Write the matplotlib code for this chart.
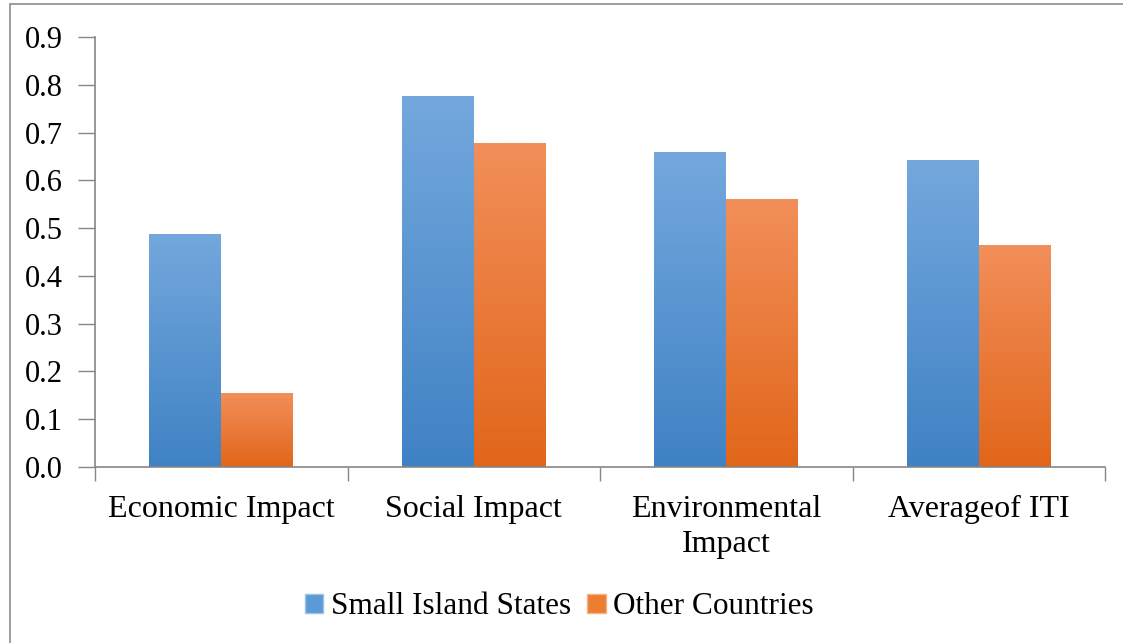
import numpy as np
import matplotlib
matplotlib.use('Agg')
import matplotlib.pyplot as plt
from matplotlib.colors import LinearSegmentedColormap
from matplotlib.patches import Patch, Rectangle

# data
categories = ['Economic Impact', 'Social Impact', 'Environmental\nImpact', 'Averageof ITI']
small_island = [0.488, 0.776, 0.659, 0.643]
other_countries = [0.155, 0.678, 0.561, 0.465]
series_names = ['Small Island States', 'Other Countries']

blue_grad = LinearSegmentedColormap.from_list('b', ['#3f82c4', '#74a8dd'])
orange_grad = LinearSegmentedColormap.from_list('o', ['#e1661a', '#f28f5a'])

plt.rcParams['font.family'] = ['Liberation Serif', 'DejaVu Serif']

fig = plt.figure(figsize=(11.23, 6.43), dpi=100)
# outer frame
fig.patches.append(Rectangle((10 / 1123, -0.1), 1.2, 1 - 4 / 643 + 0.1,
                             transform=fig.transFigure, fill=False,
                             edgecolor='#8c8c8c', linewidth=1.2))

ax = fig.add_axes([0.0846, 0.2737, 0.8994, 0.6688])
x = np.arange(len(categories))
w = 0.285

b1 = ax.bar(x - w / 2, small_island, w, color='none', edgecolor='none')
b2 = ax.bar(x + w / 2, other_countries, w, color='none', edgecolor='none')

grad = np.linspace(0, 1, 256).reshape(-1, 1)
for bars, cmap in [(b1, blue_grad), (b2, orange_grad)]:
    for r in bars:
        x0, y0 = r.get_x(), r.get_y()
        x1, y1 = x0 + r.get_width(), y0 + r.get_height()
        im = ax.imshow(grad, cmap=cmap, origin='lower', aspect='auto',
                       extent=[x0, x1, y0, y1], zorder=2)
        im.set_clip_path(r)

ax.set_xlim(-0.5, len(categories) - 0.5)
ax.set_ylim(0, 0.9)
ax.set_yticks(np.arange(0, 0.91, 0.1))
ax.set_yticklabels(['%.1f' % v for v in np.arange(0, 0.91, 0.1)])
ax.set_xticks(x)
ax.set_xticklabels(categories, fontsize=23, linespacing=1.3)
ax.set_xticks(np.arange(-0.5, len(categories)), minor=True)
ax.tick_params(axis='x', which='major', length=0, pad=20)
ax.tick_params(axis='x', which='minor', length=10, color='#868686', width=1)
ax.tick_params(axis='y', length=12, color='#868686', width=1, labelsize=22, pad=11)

for s in ['top', 'right']:
    ax.spines[s].set_visible(False)
for s in ['left', 'bottom']:
    ax.spines[s].set_color('#868686')
    ax.spines[s].set_linewidth(1.2)

handles = [Patch(facecolor='#5b9bd5', edgecolor='#9cc3e6'),
           Patch(facecolor='#ed7d31', edgecolor='#f4b183')]
fig.legend(handles, series_names, loc='center', bbox_to_anchor=(0.498, 0.056),
           ncol=2, frameon=False, fontsize=22.5, handlelength=0.6,
           handleheight=0.6, handletextpad=0.25, columnspacing=0.5)

fig.savefig('out.png', dpi=100)
